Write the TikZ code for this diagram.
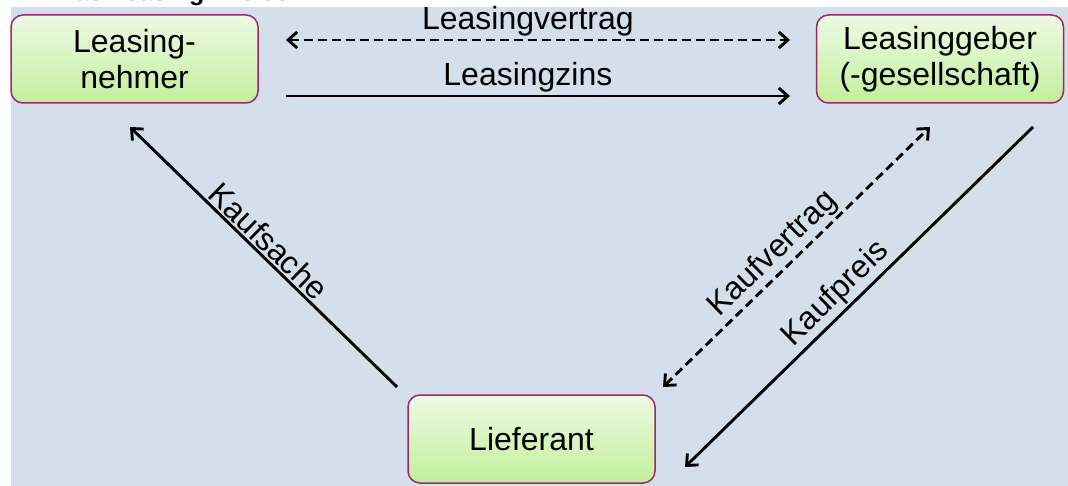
\documentclass[tikz,border=0pt]{standalone}
\usepackage{fontspec}
\setmainfont{Liberation Sans}
\usetikzlibrary{arrows.meta}
\definecolor{bg}{HTML}{D3E0EB}
\definecolor{boxtop}{HTML}{EEFAE4}
\definecolor{boxbot}{HTML}{C2EF9B}
\definecolor{boxline}{HTML}{A0266A}
\begin{document}
\begin{tikzpicture}[x=1pt,y=-1pt,
  >={Straight Barb[length=9pt,width=16pt]},
  party/.style={draw=boxline, line width=1.5pt, rounded corners=12pt,
    top color=boxtop, bottom color=boxbot, minimum width=247pt,
    minimum height=88pt, align=center, inner sep=0pt,
    font=\fontsize{32}{36}\selectfont},
  flow/.style={line width=2.9pt, ->},
  contract/.style={line width=2.9pt, dash pattern=on 9pt off 5pt, <->},
  lbl/.style={font=\fontsize{32}{36}\selectfont, inner sep=2pt}]
  \useasboundingbox (0,0) rectangle (1068,486);
  \clip (0,0) rectangle (1068,486);

  % heading, mostly hidden behind the panel
  \node[anchor=base west, inner sep=0pt, font=\fontsize{25}{30}\selectfont\bfseries]
    (title) at (57,1) {Das Leasing-Dreieck};

  % panel
  \fill[bg] (11,7) rectangle (1068,486);

  % parties
  \node[party] (ln) at (134.5,59) {Leasing-\\nehmer};
  \node[party] (lg) at (940,59) {Leasinggeber\\(-gesellschaft)};
  \node[party] (lf) at (531.5,439) {Lieferant};

  % connector ends
  \coordinate (lv-a) at (286,40);
  \coordinate (lv-b) at (790,40);
  \coordinate (lz-a) at (286,96);
  \coordinate (lz-b) at (790,96);
  \coordinate (ks-a) at (397,387);
  \coordinate (ks-b) at (130,127);
  \coordinate (kv-a) at (663,387);
  \coordinate (kv-b) at (930,127);
  \coordinate (kp-a) at (1033,127);
  \coordinate (kp-b) at (685,467);

  % relations
  \draw[contract] (lv-a) -- node[lbl, above, pos=0.48] {Leasingvertrag} (lv-b);
  \draw[flow] (lz-a) -- node[lbl, above, pos=0.48] {Leasingzins} (lz-b);
  \draw[flow] (ks-a) -- node[lbl, above, sloped, pos=0.52] {Kaufsache} (ks-b);
  \draw[contract] (kv-a) -- node[lbl, above, sloped, pos=0.46] {Kaufvertrag} (kv-b);
  \draw[flow] (kp-a) -- node[lbl, above, sloped, pos=0.53] {Kaufpreis} (kp-b);
\end{tikzpicture}
\end{document}
